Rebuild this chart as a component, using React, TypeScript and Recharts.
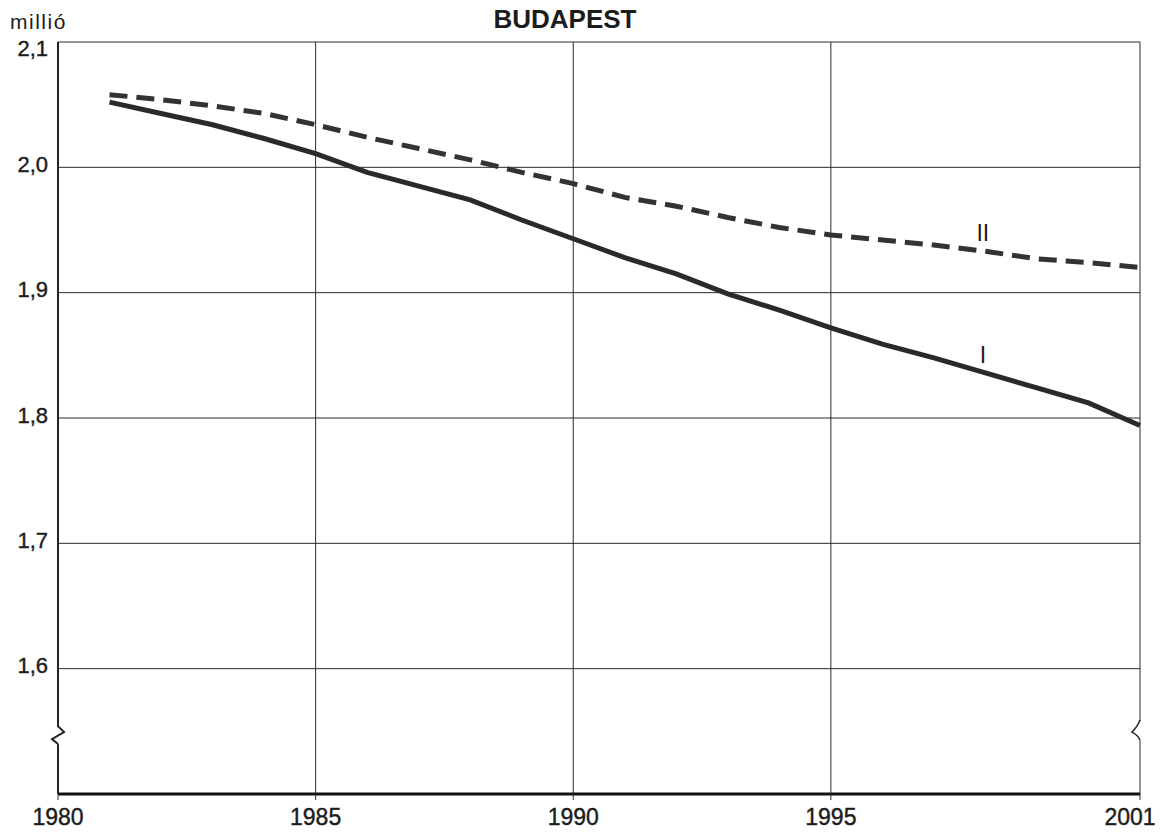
import { LineChart, Line, XAxis, YAxis, CartesianGrid, ReferenceDot } from 'recharts';

// népességszám, millió fő
const years = [1981, 1982, 1983, 1984, 1985, 1986, 1987, 1988, 1989, 1990, 1991, 1992, 1993, 1994, 1995, 1996, 1997, 1998, 1999, 2000, 2001];
const seriesI = [2.052, 2.043, 2.034, 2.023, 2.011, 1.996, 1.985, 1.974, 1.958, 1.943, 1.928, 1.915, 1.899, 1.886, 1.872, 1.859, 1.848, 1.836, 1.824, 1.812, 1.794];
const seriesII = [2.058, 2.054, 2.049, 2.043, 2.034, 2.024, 2.015, 2.006, 1.996, 1.987, 1.976, 1.969, 1.960, 1.952, 1.946, 1.942, 1.938, 1.933, 1.927, 1.924, 1.920];

const xTicks = [1980, 1985, 1990, 1995, 2001];
const yTicks = [1.5, 1.6, 1.7, 1.8, 1.9, 2.0, 2.1];

const data = years.map((year, i) => ({ year, I: seriesI[i], II: seriesII[i] }));

const FONT = '"Liberation Sans", Arial, Helvetica, sans-serif';
const INK = '#1c1c1c';

const XTick = (props: any) => {
  const { x, y, payload } = props;
  const v = payload.value;
  return (
    <text x={x + (v === 2001 ? -10 : 0)} y={y} dy="0.71em" textAnchor="middle" fontSize={23} fill={INK} stroke={INK} strokeWidth={0.4} fontFamily={FONT}>
      {v}
    </text>
  );
};

const YTick = (props: any) => {
  const { x, y, payload } = props;
  const v = payload.value;
  if (v === 1.5) return null;
  return (
    <text x={x} y={y + (v === 2.1 ? 6 : -3)} dy="0.355em" textAnchor="end" fontSize={22} fill={INK} stroke={INK} strokeWidth={0.4} fontFamily={FONT}>
      {v.toFixed(1).replace('.', ',')}
    </text>
  );
};

const leftBreak = (p: any) => (
  <g>
    <rect x={p.cx - 3} y={p.cy - 8} width={6} height={17} fill="#fff" />
    <path d={`M${p.cx},${p.cy - 9} L${p.cx + 6},${p.cy - 3} L${p.cx - 6},${p.cy + 4} L${p.cx},${p.cy + 9}`} stroke="#222" strokeWidth={2} fill="none" />
  </g>
);

const rightBreak = (p: any) => (
  <g>
    <rect x={p.cx - 3} y={p.cy - 9} width={6} height={19} fill="#fff" />
    <path d={`M${p.cx},${p.cy - 10} Q${p.cx - 2},${p.cy - 4} ${p.cx - 8},${p.cy + 2} Q${p.cx - 2},${p.cy + 5} ${p.cx},${p.cy + 10}`} stroke="#222" strokeWidth={1.5} fill="none" />
  </g>
);

const seriesLabel = (text: string) => (p: any) => (
  <text x={p.cx} y={p.cy} dy="0.355em" textAnchor="middle" fontSize={23} fill={INK} fontFamily={FONT}>
    {text}
  </text>
);

export default function App() {
  return (
    <div style={{ position: 'absolute', left: 0, top: 0, width: 1167, height: 833, background: '#fff' }}>
      <div style={{ position: 'absolute', left: 0, width: 1130, top: 6, textAlign: 'center', fontFamily: FONT, fontSize: 26, lineHeight: '26px', fontWeight: 'bold', color: INK }}>
        BUDAPEST
      </div>
      <div style={{ position: 'absolute', left: 10, top: 11, fontFamily: FONT, fontSize: 21, lineHeight: '21px', letterSpacing: 1.5, color: INK }}>
        millió
      </div>
      <LineChart width={1167} height={833} data={data} margin={{ top: 42, right: 27, left: 0, bottom: 0 }}>
        <CartesianGrid stroke="#2a2a2a" strokeWidth={1} />
        <XAxis
          dataKey="year"
          type="number"
          domain={[1980, 2001]}
          ticks={xTicks}
          height={39}
          axisLine={{ stroke: '#111', strokeWidth: 3 }}
          tickLine={{ stroke: '#333' }}
          tickSize={6}
          tickMargin={9}
          tick={XTick}
        />
        <YAxis
          type="number"
          domain={[1.5, 2.1]}
          ticks={yTicks}
          width={58}
          axisLine={{ stroke: '#222', strokeWidth: 2 }}
          tickLine={false}
          tickSize={0}
          tickMargin={10}
          tick={YTick}
        />
        <Line type="linear" dataKey="II" stroke="#333" strokeWidth={5} strokeDasharray="18 9" dot={false} isAnimationActive={false} />
        <Line type="linear" dataKey="I" stroke="#2a2a2a" strokeWidth={5} dot={false} isAnimationActive={false} />
        <ReferenceDot x={1980} y={1.547} shape={leftBreak} />
        <ReferenceDot x={2001} y={1.551} shape={rightBreak} />
        <ReferenceDot x={1997.95} y={1.948} shape={seriesLabel('II')} />
        <ReferenceDot x={1997.95} y={1.850} shape={seriesLabel('I')} />
      </LineChart>
    </div>
  );
}
